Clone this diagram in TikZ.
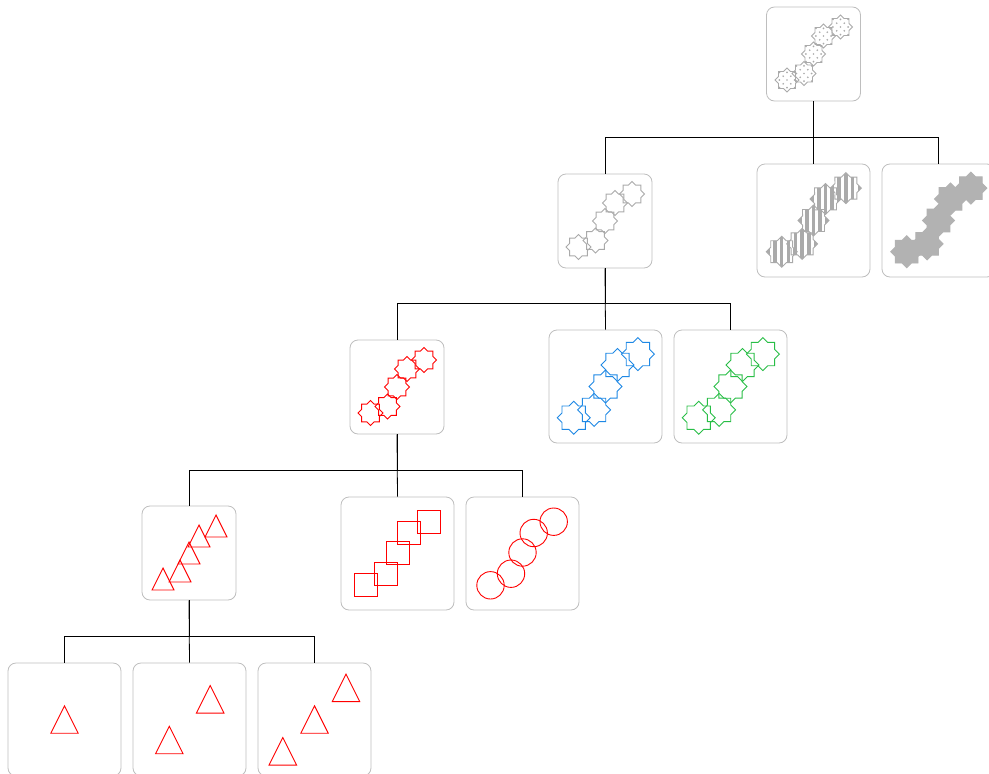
\documentclass[tikz,border=0pt]{standalone}
\definecolor{boxgray}{RGB}{190,190,190}
\definecolor{shgray}{RGB}{170,170,170}
\definecolor{fillgray}{RGB}{178,178,178}
\definecolor{myblue}{RGB}{30,136,229}
\definecolor{mygreen}{RGB}{40,190,70}
\definecolor{myred}{RGB}{255,0,0}
\newcommand\starpath[1]{(0:#1) \foreach \i in {1,...,15}{ -- (\i*22.5:{#1*(1-0.235*mod(\i,2))})} -- cycle}
\newcommand\mystar[4]{\draw[#1,shift={({#2},{#3})}] \starpath{#4};}
\newcommand\stripestar[3]{\begin{scope}[shift={({#1},{#2})}]
  \begin{scope}\clip \starpath{#3};
    \foreach \k in {-3,...,3}{\fill[shgray] ({\k*6.7-1.75},{-#3}) rectangle ({\k*6.7+1.75},{#3});}
  \end{scope}
  \draw[shape line,draw=shgray] \starpath{#3};
\end{scope}}
\newcommand\dotstar[3]{\begin{scope}[shift={({#1},{#2})}]
  \begin{scope}\clip \starpath{#3};
    \foreach \j in {-4,...,4}{\foreach \k in {-2,...,2}{\fill[shgray] ({\k*7.6+mod(abs(\j),2)*3.8},{\j*3.8}) circle[radius=0.95];}}
  \end{scope}
  \draw[shape line,draw=shgray] \starpath{#3};
\end{scope}}
\newcommand\fivestars[5]{\foreach \dx/\dy in {-26.5/26,-9.5/19.5,0/0,10/-18,27/-27}{\pgfmathsetmacro\sx{#2+#4*(\dx)}\pgfmathsetmacro\sy{#3+#4*(\dy)}\mystar{#1}{\sx}{\sy}{#5}}}
\newcommand\mytri[3]{\draw[shape line,draw=myred,shift={({#1},{#2})}] (0,{-#3/2}) -- ({#3/2},{#3/2}) -- ({-#3/2},{#3/2}) -- cycle;}
\begin{document}
\begin{tikzpicture}[x=1pt,y=-1pt,
  box/.style={draw=boxgray,line width=0.8pt,rounded corners=8pt,inner sep=0pt,fill=white},
  sbox/.style={box,minimum width=94pt,minimum height=94pt},
  bbox/.style={box,minimum width=113pt,minimum height=113pt},
  link/.style={draw=black,line width=0.8pt},
  sq/.style={draw=myred,line width=1pt,minimum size=23pt,inner sep=0pt,outer sep=0pt},
  shape line/.style={line width=0.9pt,line join=miter}]
\useasboundingbox (0,0) rectangle (989,774);
% boxes
\node[sbox] (r) at (813.5,54) {};
\node[sbox] (a) at (605,221) {};
\node[bbox] (b) at (813.5,220.5) {};
\node[bbox] (c) at (938.5,220.5) {};
\node[sbox] (d) at (397,387) {};
\node[bbox] (e) at (605.5,386.5) {};
\node[bbox] (f) at (730.5,386.5) {};
\node[sbox] (g) at (189,553) {};
\node[bbox] (h) at (397.5,553.5) {};
\node[bbox] (k) at (522.5,553.5) {};
\node[bbox] (l) at (64.5,719.5) {};
\node[bbox] (m) at (189.5,719.5) {};
\node[bbox] (n) at (314.5,719.5) {};
% connectors
\draw[link] (r.south) -- (b.north);
\draw[link] (r.south) -- ++(0,36) coordinate (rj) -| (a.north);
\draw[link] (rj) -| (c.north);
\draw[link] (a.south) -- (e.north);
\draw[link] (a.south) -- ++(0,35) coordinate (aj) -| (d.north);
\draw[link] (aj) -| (f.north);
\draw[link] (d.south) -- (h.north);
\draw[link] (d.south) -- ++(0,36) coordinate (dj) -| (g.north);
\draw[link] (dj) -| (k.north);
\draw[link] (g.south) -- (m.north);
\draw[link] (g.south) -- ++(0,36) coordinate (gj) -| (l.north);
\draw[link] (gj) -| (n.north);
% red shapes
\foreach \dx/\dy in {-26/26,-9/18,0/0,10/-17,27/-27}{\mytri{189+\dx}{553+\dy}{22}}
\foreach \dx/\dy in {-32/31.8,-11.5/20.2,0/-1,11.2/-20.5,31.2/-31.8}{\draw[shape line,draw=myred] ({522.5+\dx},{553.5+\dy}) circle[radius=13.7];}
\mytri{64.5}{719.5}{27.5}
\mytri{169.3}{740}{27.5}
\mytri{210.2}{699.3}{27.5}
\mytri{282.8}{751.3}{27.5}
\mytri{314.5}{719.5}{27.5}
\mytri{346}{687.8}{27.5}
% stars
\foreach \dx/\dy in {-26.5/26,-9.5/19.5,0/0,10/-18,27/-27}{\dotstar{813.5+\dx}{54+\dy}{12}}
\fivestars{shape line,draw=shgray}{605}{221}{1}{12.5}
\foreach \dx/\dy in {-26.5/26,-9.5/19.5,0/0,10/-18,27/-27}{\stripestar{813.5+1.2*(\dx)}{220.5+1.2*(\dy)}{15.5}}
\fivestars{shape line,draw=fillgray,fill=fillgray}{938.5}{220.5}{1.2}{16}
\fivestars{shape line,draw=myred}{397}{387}{1}{12.5}
\fivestars{shape line,draw=myblue}{605.5}{386.5}{1.2}{16.5}
\fivestars{shape line,draw=mygreen}{730.5}{386.5}{1.2}{16.5}
% squares
\node[sq] (s1) at (366,585) {};
\node[sq] (s2) at (386,574) {};
\node[sq] (s3) at (398,553) {};
\node[sq] (s4) at (409,533) {};
\node[sq] (s5) at (429,522) {};
\end{tikzpicture}
\end{document}
